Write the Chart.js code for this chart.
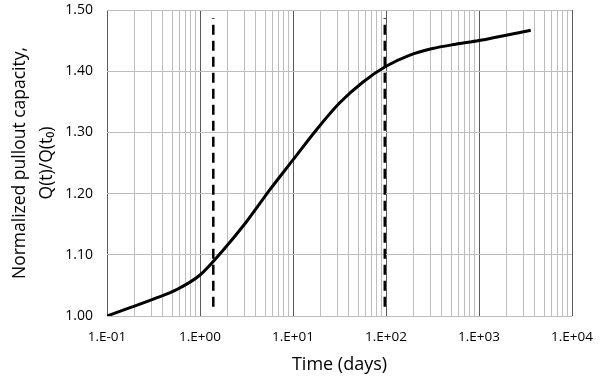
<!DOCTYPE html>
<html>
<head>
<meta charset="utf-8">
<script src="https://cdn.jsdelivr.net/npm/chart.js@4/dist/chart.umd.min.js"></script>
<style>
  html, body { margin: 0; padding: 0; background: #fff; }
  #wrap { width: 600px; height: 376px; }
</style>
</head>
<body>
<div id="wrap"><canvas id="pulloutChart"></canvas></div>
<script>
// Curve: time (days) and Q(t)/Q(t0)
const timeDays = [0.1, 0.18, 0.32, 0.56, 1.0, 1.78, 3.16, 5.62, 10, 17.8, 31.6, 56.2, 100, 178, 316, 562, 1000, 3600];
const capacity = [1.000, 1.014, 1.028, 1.043, 1.067, 1.108, 1.154, 1.206, 1.255, 1.304, 1.348, 1.382, 1.408, 1.426, 1.437, 1.444, 1.450, 1.467];

// Dashed vertical markers
const markerTimes = [1.39, 97];
const markerRange = [1.015, 1.487];

const yTicks = [1.00, 1.10, 1.20, 1.30, 1.40, 1.50];
const xDecades = [0.1, 1, 10, 100, 1000, 10000];
const xTickLabels = ['1.E-01', '1.E+00', '1.E+01', '1.E+02', '1.E+03', '1.E+04'];

const FONT = "'Open Sans', 'Liberation Sans', sans-serif";

const markerSets = markerTimes.map(t => ({
    data: [{ x: t, y: markerRange[0] }, { x: t, y: markerRange[1] }],
    borderColor: '#000',
    borderWidth: 2.5,
    borderDash: [10, 6],
    pointRadius: 0,
    fill: false
}));

const isDecade = v => xDecades.some(d => Math.abs(v - d) < d * 1e-6);

// draws the two-line y axis title
const yTitlePlugin = {
    id: 'yTitle',
    afterDraw(chart) {
        const ctx = chart.ctx;
        const area = chart.chartArea;
        const cy = (area.top + area.bottom) / 2;
        ctx.save();
        ctx.fillStyle = '#000';
        ctx.font = '17.5px ' + FONT;
        ctx.textAlign = 'center';
        ctx.textBaseline = 'middle';
        ctx.translate(20, cy);
        ctx.rotate(-Math.PI / 2);
        ctx.fillText('Normalized pullout capacity,', 0, 0);
        ctx.fillText('Q(t)/Q(t\u2080)', 0, 27);
        ctx.restore();
    }
};

const ctx = document.getElementById('pulloutChart').getContext('2d');
const pulloutChart = new Chart(ctx, {
    type: 'line',
    data: {
        datasets: [{
            data: timeDays.map((t, i) => ({ x: t, y: capacity[i] })),
            borderColor: '#000',
            borderWidth: 3,
            pointRadius: 0,
            cubicInterpolationMode: 'monotone',
            fill: false
        }, ...markerSets]
    },
    options: {
        responsive: true,
        maintainAspectRatio: false,
        animation: false,
        events: [],
        layout: { padding: { top: 10, right: 28, left: 0, bottom: 0 } },
        plugins: {
            legend: { display: false },
            tooltip: { enabled: false }
        },
        scales: {
            x: {
                type: 'logarithmic',
                min: 0.1,
                max: 10000,
                afterBuildTicks(scale) {
                    const ticks = [];
                    for (let e = -1; e < 4; e++) {
                        for (let m = 1; m < 10; m++) {
                            ticks.push({ value: +(m * Math.pow(10, e)).toPrecision(3) });
                        }
                    }
                    ticks.push({ value: 10000 });
                    scale.ticks = ticks;
                },
                afterFit(scale) {
                    scale.height = 60;
                    scale.paddingLeft = 0;
                    scale.paddingRight = 0;
                },
                grid: {
                    color: c => isDecade(c.tick.value) ? '#5a5a5a' : '#bdbdbd',
                    lineWidth: 1,
                    drawTicks: false
                },
                border: { display: false },
                ticks: {
                    autoSkip: false,
                    maxRotation: 0,
                    padding: 13,
                    color: '#000',
                    font: { family: FONT, size: 13.5 },
                    callback: function (v) {
                        const i = xDecades.findIndex(d => Math.abs(v - d) < d * 1e-6);
                        return i >= 0 ? xTickLabels[i] : '';
                    }
                },
                title: {
                    display: true,
                    text: 'Time (days)',
                    color: '#000',
                    font: { family: FONT, size: 18 },
                    padding: { top: 0, bottom: 0 }
                }
            },
            y: {
                min: 1.0,
                max: 1.5,
                afterBuildTicks(scale) {
                    scale.ticks = yTicks.map(v => ({ value: v }));
                },
                afterFit(scale) {
                    scale.width = 107;
                    scale.paddingTop = 0;
                    scale.paddingBottom = 0;
                },
                grid: { color: '#bdbdbd', lineWidth: 1, drawTicks: false },
                border: { display: false },
                ticks: {
                    padding: 14,
                    color: '#000',
                    font: { family: FONT, size: 14 },
                    callback: v => v.toFixed(2)
                }
            }
        }
    },
    plugins: [yTitlePlugin]
});
</script>
</body>
</html>
